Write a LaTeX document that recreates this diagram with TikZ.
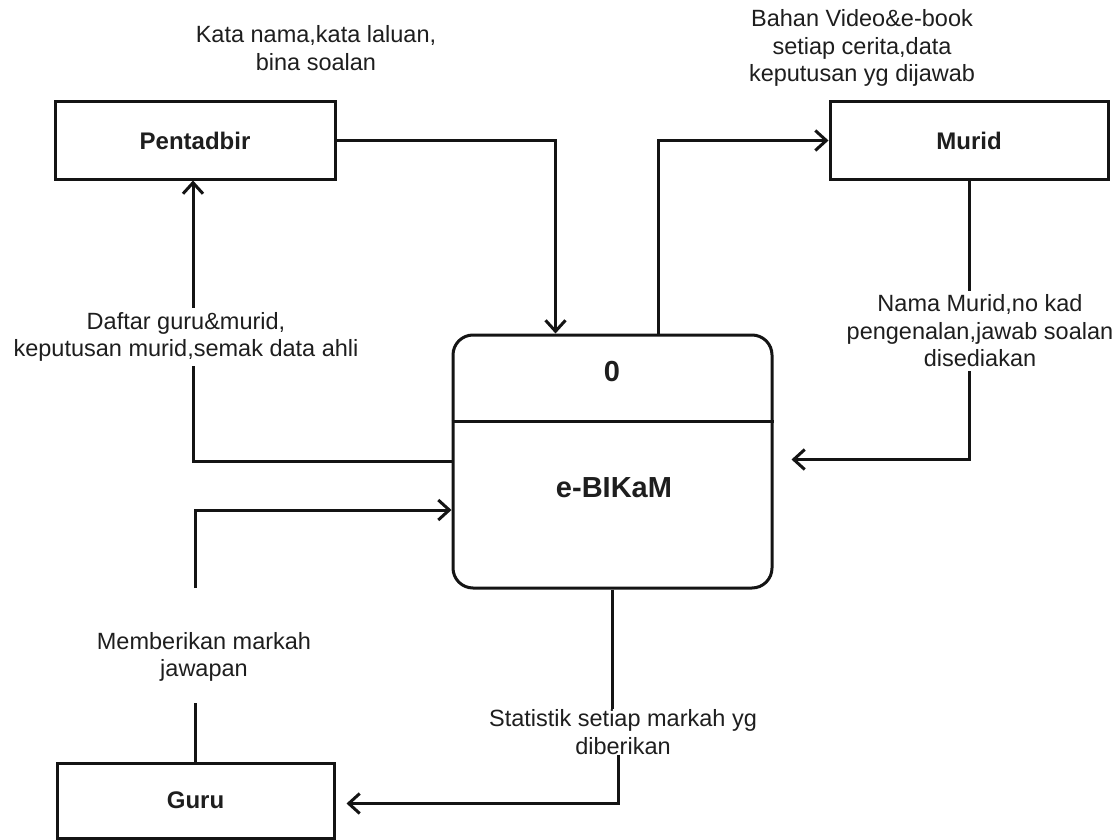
\documentclass[tikz,border=0pt]{standalone}
\usepackage{fontspec}
\setmainfont{Liberation Sans}
\usetikzlibrary{arrows.meta,calc}
\definecolor{ln}{HTML}{141414}
\definecolor{txt}{HTML}{1E1E1E}
\begin{document}
\begin{tikzpicture}[x=1pt,y=-1pt,
  ent/.style={draw=ln, line width=3pt, minimum width=280pt, minimum height=77pt,
    inner sep=0pt, font=\bfseries\fontsize{24}{28}\selectfont, text=txt},
  procbox/.style={draw=ln, line width=3pt, rounded corners=20pt,
    minimum width=319pt, minimum height=253pt, inner sep=0pt},
  big/.style={font=\bfseries\fontsize{29}{34}\selectfont, text=txt, inner sep=0pt},
  lbl/.style={align=center, font=\fontsize{23.5}{27.5}\selectfont, text=txt},
  cut/.style={lbl, fill=white, inner sep=4pt},
  wire/.style={draw=ln, line width=3pt},
  flow/.style={wire, -{Straight Barb[length=11pt,width=20pt]}}
]
\useasboundingbox (0,0) rectangle (1119,840);
\fill[white] (0,0) rectangle (1119,840);

% entities
\node[ent] (pent) at (195,140.5) {Pentadbir};
\node[ent, minimum width=278pt] (murid) at (969,140.5) {Murid};
\node[ent, minimum width=277pt, minimum height=75pt] (guru) at (195.5,800.5) {Guru};

% process
\node[procbox] (proc) at (612.5,461.5) {};
\draw[wire] ($(proc.north west)+(0,88)$) -- ($(proc.north east)+(0,88)$);
\node[big] (pid) at (612,372) {0};
\node[big] (pname) at (614,488) {e-BIKaM};

% label that splits its connector
\node[lbl, inner sep=0pt] (slbl) at (623,732) {Statistik setiap markah yg\\diberikan};

% free ends of the broken Guru connector
\coordinate (gA) at (195.5,703);
\coordinate (gB) at (195.5,588);

% connectors
\draw[flow] (pent.east) -| ($(proc.north west)+(104,0)$);
\draw[flow] ($(proc.north west)+(207,0)$) |- (murid.west);
\draw[flow] (murid.south) |- ($(proc.east)+(18,-2)$);
\draw[flow] (proc.west) -| ($(pent.south)+(-2,0)$);
\draw[wire] (guru.north) -- (gA);
\draw[flow] (gB) |- ($(proc.west)+(0,48.5)$);
\draw[wire] (proc.south) -- (proc.south |- slbl.north);
\draw[flow] ($(slbl.south)+(-5,0)$) |- ($(guru.east)+(11,3)$);

% labels
\node[lbl] (lkata) at (316,48) {Kata nama,kata laluan,\\bina soalan};
\node[lbl] (lbahan) at (862,48) {Bahan Video\&e-book\\setiap cerita,data\\keputusan yg dijawab};
\node[cut] (lnama) at (980,331) {Nama Murid,no kad\\pengenalan,jawab soalan\\disediakan};
\node[cut] (ldaftar) at (186,337) {Daftar guru\&murid,\\keputusan murid,semak data ahli};
\node[lbl] (lmemb) at (204,657) {Memberikan markah\\jawapan};
\end{tikzpicture}
\end{document}
